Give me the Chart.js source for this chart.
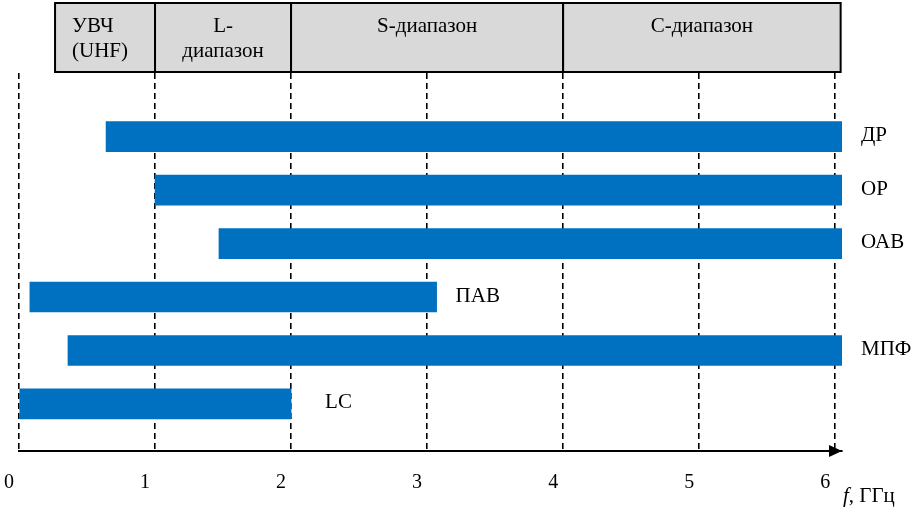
<!DOCTYPE html>
<html>
<head>
<meta charset="utf-8">
<script src="https://cdn.jsdelivr.net/npm/chart.js@4"></script>
<style>
  html, body { margin: 0; padding: 0; background: #ffffff; }
  canvas { display: block; }
</style>
</head>
<body>
<canvas id="c" width="916" height="511"></canvas>
<script>
// ---- data ----
const categories = ['ДР', 'ОР', 'ОАВ', 'ПАВ', 'МПФ', 'LC'];
const bandStart  = [0.64, 1.0, 1.47, 0.08, 0.36, 0.0];   // GHz
const bandEnd    = [6.05, 6.05, 6.05, 3.07, 6.05, 2.0];  // GHz
const tickValues = [0, 1, 2, 3, 4, 5, 6];
const rangeLabels = [['УВЧ', '(UHF)'], ['L-', 'диапазон'], ['S-диапазон'], ['C-диапазон']];
const rangeFrom   = [0.265, 1, 2, 4];
const rangeTo     = [1, 2, 4, 6.04];
const axisTitle = ['f', ', ГГц'];

const SERIF = '"Liberation Serif", "DejaVu Serif", serif';
const BLUE = '#0070c0';

const headerPlugin = {
  id: 'header',
  beforeDraw(chart) {
    const ctx = chart.ctx;
    const xs = chart.scales.x;
    const top = 3, bottom = 72;
    ctx.save();
    for (let i = 0; i < rangeLabels.length; i++) {
      const x1 = xs.getPixelForValue(rangeFrom[i]);
      const x2 = xs.getPixelForValue(rangeTo[i]);
      ctx.fillStyle = '#d9d9d9';
      ctx.fillRect(x1, top, x2 - x1, bottom - top);
      ctx.lineWidth = 2;
      ctx.strokeStyle = '#000';
      ctx.strokeRect(x1, top, x2 - x1, bottom - top);
      ctx.fillStyle = '#000';
      ctx.font = '21px ' + SERIF;
      ctx.textBaseline = 'middle';
      const lines = rangeLabels[i];
      lines.forEach((t, j) => {
        const y = 26 + j * 25;
        if (i === 0) {
          ctx.textAlign = 'left';
          ctx.fillText(t, x1 + 17, y);
        } else {
          ctx.textAlign = 'center';
          ctx.fillText(t, (x1 + x2) / 2, y);
        }
      });
    }
    ctx.restore();
  }
};

const overlayPlugin = {
  id: 'overlay',
  afterDraw(chart) {
    const ctx = chart.ctx;
    const area = chart.chartArea;
    ctx.save();
    // arrow at axis end
    const yA = area.bottom;
    const xt = area.right;
    ctx.fillStyle = '#000';
    ctx.beginPath();
    ctx.moveTo(xt, yA);
    ctx.lineTo(xt - 13, yA - 6);
    ctx.lineTo(xt - 13, yA + 6);
    ctx.closePath();
    ctx.fill();
    // bar labels
    const meta = chart.getDatasetMeta(0);
    ctx.font = '21px ' + SERIF;
    ctx.textBaseline = 'middle';
    ctx.textAlign = 'left';
    meta.data.forEach((bar, i) => {
      const gap = bar.x < area.left + (area.right - area.left) * 0.4 ? 34 : 19;
      ctx.fillText(categories[i], bar.x + gap, bar.y - 1);
    });
    // axis title
    ctx.font = 'italic 21px ' + SERIF;
    ctx.fillText(axisTitle[0], area.right + 1, 496);
    const w = ctx.measureText(axisTitle[0]).width;
    ctx.font = '21px ' + SERIF;
    ctx.fillText(axisTitle[1], area.right + 1 + w, 496);
    ctx.restore();
  }
};

new Chart(document.getElementById('c'), {
  type: 'bar',
  data: {
    datasets: [{
      data: categories.map((c, i) => ({ x: [bandStart[i], bandEnd[i]], y: i })),
      backgroundColor: BLUE,
      borderWidth: 0,
      borderSkipped: false,
      barThickness: 30
    }]
  },
  options: {
    indexAxis: 'y',
    responsive: false,
    animation: false,
    devicePixelRatio: 1,
    layout: { padding: { left: 19, right: 74, top: 73, bottom: 0 } },
    plugins: { legend: { display: false }, tooltip: { enabled: false } },
    scales: {
      x: {
        type: 'linear',
        position: 'bottom',
        min: 0,
        max: 6.05,
        afterFit(s) { s.height = 60; s.paddingLeft = 0; s.paddingRight = 0; },
        afterBuildTicks(s) { s.ticks = tickValues.map(v => ({ value: v })); },
        ticks: {
          includeBounds: false,
          stepSize: 1,
          padding: 20,
          labelOffset: -10,
          color: '#000',
          font: { family: SERIF, size: 20 },
          maxRotation: 0
        },
        grid: {
          color: '#000',
          lineWidth: 1.6,
          drawTicks: false
        },
        border: { display: true, color: '#000', width: 2, dash: [6, 4] }
      },
      y: {
        type: 'linear',
        display: false,
        reverse: true,
        offset: false,
        min: -1.19,
        max: 5.88
      }
    }
  },
  plugins: [headerPlugin, overlayPlugin]
});
</script>
</body>
</html>
